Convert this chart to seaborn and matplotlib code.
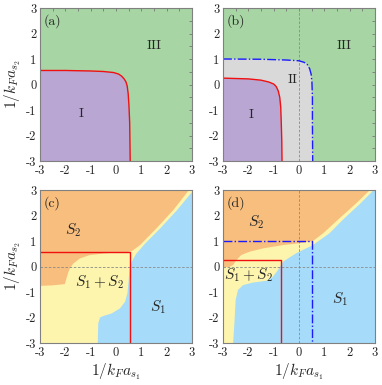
import numpy as np
import pandas as pd
import matplotlib
matplotlib.use("Agg")
import matplotlib.pyplot as plt
import seaborn as sns

sns.set_style("white")
plt.rcParams['font.family'] = 'serif'
plt.rcParams['font.serif'] = ['cmr10', 'DejaVu Serif']
plt.rcParams['mathtext.fontset'] = 'cm'
plt.rcParams['axes.unicode_minus'] = False
plt.rcParams['axes.formatter.use_mathtext'] = True

# ---------------- data ----------------
tick_values = [-3, -2, -1, 0, 1, 2, 3]
tick_labels = ['-3', '-2', '-1', '0', '1', '2', '3']

# panel (a): red boundary between I and III
a_red_x = [-3, -2, -1, -0.5, -0.1, 0.1, 0.22, 0.32, 0.39, 0.44, 0.48, 0.51, 0.54, 0.55, 0.56]
a_red_y = [0.55, 0.55, 0.53, 0.51, 0.47, 0.41, 0.33, 0.22, 0.11, -0.05, -0.35, -0.8, -1.5, -2.2, -3]

# panel (b): red (I/II) and blue (II/III) boundaries
b_red_x = [-3, -2, -1.5, -1.2, -1.0, -0.9, -0.82, -0.76, -0.72, -0.70, -0.68, -0.67]
b_red_y = [0.25, 0.22, 0.17, 0.10, 0.02, -0.08, -0.25, -0.5, -0.9, -1.5, -2.2, -3]
b_blue_x = [-3, -1.5, -0.5, 0.0, 0.2, 0.33, 0.42, 0.48, 0.51, 0.53, 0.53, 0.54]
b_blue_y = [1.0, 0.99, 0.96, 0.93, 0.87, 0.78, 0.62, 0.4, 0.1, -0.5, -1.5, -3]

# panel (c): S2 / (S1+S2) boundary and S1 / (S1+S2) boundary
c_s2_x = [-3, -2.5, -2.02, -1.95, -1.88, -1.82, -1.68, -1.42, -1.03, -0.37, 0.42, 0.62, 0.95, 1.6, 2.26, 2.88]
c_s2_y = [-0.76, -0.74, -0.69, -0.45, -0.22, -0.07, 0.12, 0.32, 0.45, 0.52, 0.56, 0.6, 0.84, 1.5, 2.21, 3]
c_s1_x = [3, 2.4, 1.75, 1.15, 0.8, 0.62, 0.53, 0.49, 0.45, 0.36, 0.16, -0.17, -0.5, -0.63, -0.7, -0.72]
c_s1_y = [2.92, 2.2, 1.5, 0.9, 0.5, 0.19, -0.14, -0.66, -1.05, -1.38, -1.64, -1.84, -1.94, -2.0, -2.23, -3]
c_red_x = [-3, 0.56, 0.56]
c_red_y = [0.56, 0.56, -3]

# panel (d)
d_s2_x = [-3, -2.75, -2.6, -2.47, -2.28, -1.95, -1.42, -0.63, 0.16, 0.55, 0.95, 1.6, 2.26, 2.8]
d_s2_y = [-0.02, -0.02, 0.06, 0.25, 0.45, 0.58, 0.71, 0.84, 0.93, 1.0, 1.3, 1.89, 2.48, 3]
d_s1_x = [2.95, 2.4, 1.8, 1.2, 0.55, -0.11, -0.63, -0.83, -1.03, -1.29, -1.82, -2.21, -2.41, -2.5, -2.55, -2.6]
d_s1_y = [3.0, 2.45, 1.9, 1.3, 0.84, 0.52, 0.19, -0.14, -0.4, -0.56, -0.63, -0.73, -0.92, -1.31, -2.23, -3]
d_red_x = [-3, -0.70, -0.70]
d_red_y = [0.26, 0.26, -3]
d_blue_x = [-3, 0.53, 0.53]
d_blue_y = [0.99, 0.99, -3]

# colours
GREEN = '#a8d5a4'
PURPLE = '#b9a6d3'
GRAY = '#d9d9d9'
ORANGE = '#f8be7d'
YELLOW = '#fdf5ad'
BLUE = '#a6dbf9'
RED = '#f01010'
DBLUE = '#1a1aff'

fig = plt.figure(figsize=(3.82, 3.85), dpi=100)
W, H = 382, 385
def add_ax(l, t, r, b):
    return fig.add_axes([l / W, 1 - b / H, (r - l) / W, (b - t) / H])

ax_a = add_ax(40, 8, 192, 161)
ax_b = add_ax(223, 8, 375, 161)
ax_c = add_ax(40, 190, 192, 343)
ax_d = add_ax(223, 190, 375, 343)

LIM = (-3, 3)

def style(ax, xlabel=False, ylabel=False):
    ax.set_xlim(*LIM)
    ax.set_ylim(*LIM)
    ax.set_xticks(tick_values)
    ax.set_yticks(tick_values)
    ax.set_xticklabels(tick_labels)
    ax.set_yticklabels(tick_labels)
    ax.set_xticks(np.arange(-2.5, 3, 1.0), minor=True)
    ax.set_yticks(np.arange(-2.5, 3, 1.0), minor=True)
    ax.tick_params(which='both', direction='in', top=True, right=True,
                   length=2.5, width=0.6, color='#777777', labelsize=9, pad=2.5)
    for s in ax.spines.values():
        s.set_color('#808080')
        s.set_linewidth(0.8)
        s.set_zorder(10)
    ax.set_xlabel(r'$1/k_Fa_{s_1}$' if xlabel else '', fontsize=11, labelpad=2)
    ax.set_ylabel(r'$1/k_Fa_{s_2}$' if ylabel else '', fontsize=11, labelpad=2)

def full(ax, color):
    ax.fill([-3, 3, 3, -3], [-3, -3, 3, 3], color=color, lw=0, zorder=0)

def region_lower_left(ax, xs, ys, color):
    ax.fill(list(xs) + [-3], list(ys) + [-3], color=color, lw=0, zorder=1)

def line(ax, xs, ys, color, ls='-', lw=1.0):
    df = pd.DataFrame({'x': xs, 'y': ys})
    sns.lineplot(data=df, x='x', y='y', sort=False, estimator=None, ax=ax,
                 color=color, linestyle=ls, linewidth=lw, zorder=5)

def dashed(ax, vertical=False, horizontal=False):
    if vertical:
        ax.axvline(0, color='#8a8a8a', ls=(0, (3, 2)), lw=0.6, zorder=4)
    if horizontal:
        ax.axhline(0, color='#8a8a8a', ls=(0, (3, 2)), lw=0.6, zorder=4)

def panel_label(ax, s):
    ax.text(-2.85, 2.5, s, fontsize=10, ha='left', va='center', zorder=6)

# (a)
full(ax_a, GREEN)
region_lower_left(ax_a, a_red_x, a_red_y, PURPLE)
line(ax_a, a_red_x, a_red_y, RED)
ax_a.text(-1.38, -1.16, 'I', fontsize=10, ha='center', va='center')
ax_a.text(1.5, 1.5, 'III', fontsize=10, ha='center', va='center')
panel_label(ax_a, '(a)')
style(ax_a, ylabel=True)

# (b)
full(ax_b, GREEN)
region_lower_left(ax_b, b_blue_x, b_blue_y, GRAY)
region_lower_left(ax_b, b_red_x, b_red_y, PURPLE)
dashed(ax_b, vertical=True)
line(ax_b, b_red_x, b_red_y, RED)
line(ax_b, b_blue_x, b_blue_y, DBLUE, ls='-.')
ax_b.text(-1.88, -1.2, 'I', fontsize=10, ha='center', va='center')
ax_b.text(-0.26, 0.19, 'II', fontsize=10, ha='center', va='center')
ax_b.text(1.8, 1.52, 'III', fontsize=10, ha='center', va='center')
panel_label(ax_b, '(b)')
style(ax_b)

# (c)
full(ax_c, YELLOW)
ax_c.fill([-3] + c_s2_x, [3] + c_s2_y, color=ORANGE, lw=0, zorder=1)
ax_c.fill(c_s1_x + [3, 3], c_s1_y + [-3, 3], color=BLUE, lw=0, zorder=1)
dashed(ax_c, horizontal=True)
line(ax_c, c_red_x, c_red_y, RED)
ax_c.text(-1.68, 1.43, r'$S_2$', fontsize=11, ha='center', va='center')
ax_c.text(-0.66, -0.6, r'$S_1+S_2$', fontsize=11, ha='center', va='center')
ax_c.text(1.67, -1.58, r'$S_1$', fontsize=11, ha='center', va='center')
panel_label(ax_c, '(c)')
style(ax_c, xlabel=True, ylabel=True)

# (d)
full(ax_d, YELLOW)
ax_d.fill([-3] + d_s2_x, [3] + d_s2_y, color=ORANGE, lw=0, zorder=1)
ax_d.fill(d_s1_x + [3, 3], d_s1_y + [-3, 3], color=BLUE, lw=0, zorder=1)
dashed(ax_d, vertical=True, horizontal=True)
line(ax_d, d_red_x, d_red_y, RED)
line(ax_d, d_blue_x, d_blue_y, DBLUE, ls='-.')
ax_d.text(-1.68, 1.73, r'$S_2$', fontsize=11, ha='center', va='center')
ax_d.text(-2.01, -0.33, r'$S_1+S_2$', fontsize=11, ha='center', va='center')
ax_d.text(1.63, -1.29, r'$S_1$', fontsize=11, ha='center', va='center')
panel_label(ax_d, '(d)')
style(ax_d, xlabel=True)

fig.savefig('out.png', dpi=100)
